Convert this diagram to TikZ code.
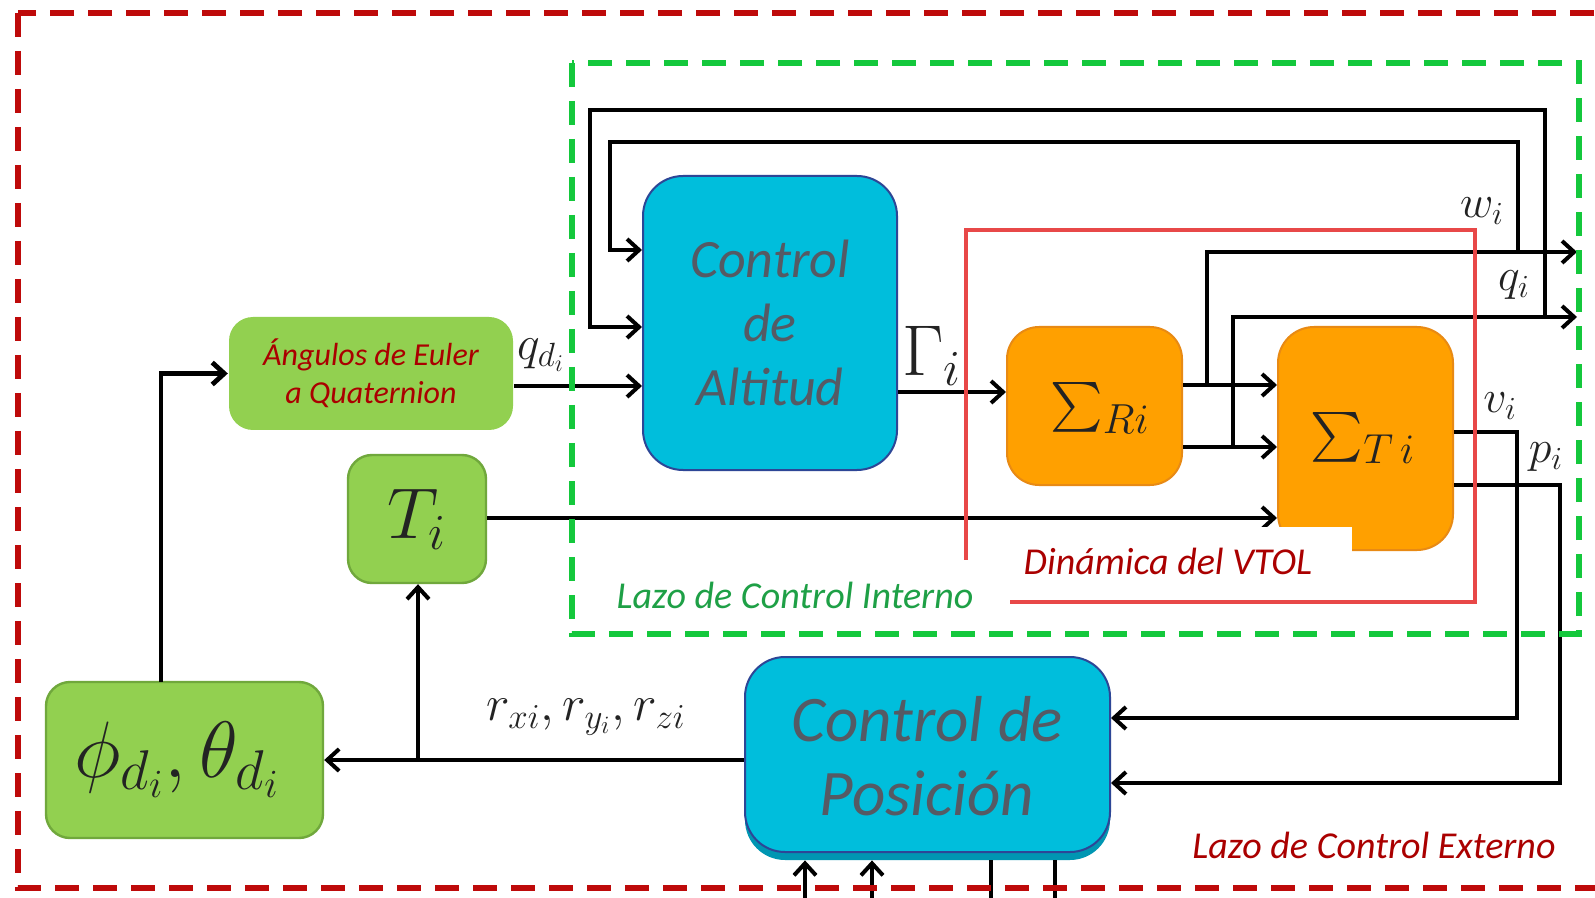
\RequirePackage{fix-cm}
\documentclass[tikz,border=0pt]{standalone}
\usepackage{exscale}
\usepackage{fontspec}
\setmainfont{Carlito}
\usepackage{graphicx}
\usetikzlibrary{arrows.meta,fit,calc}

\definecolor{cyanfill}{RGB}{0,190,220}
\definecolor{cyanedge}{RGB}{45,70,150}
\definecolor{cyanshadow}{RGB}{0,150,178}
\definecolor{orangefill}{RGB}{255,160,0}
\definecolor{orangeedge}{RGB}{232,138,20}
\definecolor{greenfill}{RGB}{146,208,80}
\definecolor{greenedge}{RGB}{112,168,60}
\definecolor{graytext}{RGB}{85,90,100}
\definecolor{darkred}{RGB}{170,0,0}
\definecolor{labelgreen}{RGB}{30,160,70}
\definecolor{outerred}{RGB}{190,10,10}
\definecolor{innergreen}{RGB}{20,200,60}
\definecolor{vtolred}{RGB}{232,72,72}
\definecolor{mathink}{RGB}{35,35,35}

\tikzset{
  wire/.style={line width=2pt, black},
  conn/.style={wire, -{Straight Barb[length=6pt,width=11pt]}},
  cyanbox/.style={draw=cyanedge, line width=1pt, fill=cyanfill, rounded corners=20pt, inner sep=0pt},
  orangebox/.style={draw=orangeedge, line width=1pt, fill=orangefill, rounded corners=16pt, inner sep=0pt},
  greenbox/.style={draw=greenedge, line width=1.2pt, fill=greenfill, rounded corners=12pt, inner sep=0pt},
  bigtext/.style={align=center, text=graytext, font=\itshape},
  mlabel/.style={text=mathink, inner sep=0pt},
  looplabel/.style={font=\fontsize{19}{22}\selectfont\itshape, inner sep=0pt},
  whitepatch/.style={fill=white, draw=none, inner sep=0pt},
  outerdash/.style={outerred, line width=3pt, dash pattern=on 12pt off 7pt},
  innerdash/.style={innergreen, line width=2.6pt, dash pattern=on 12pt off 7pt},
  vtolframe/.style={vtolred, line width=2pt}
}

\begin{document}
\begin{tikzpicture}[x=0.5pt,y=-0.5pt]
\useasboundingbox (0,0) rectangle (1595,898);
\clip (0,0) rectangle (1595,898);
\fill[white] (0,0) rectangle (1595,898);

% blocks
\node[cyanbox, fit={(643,176) (897,470)}] (alt) {};
\node[orangebox, fit={(1007,327) (1182,485)}] (sr) {};
\node[orangebox, rounded corners=18pt, fit={(1278,327) (1453,550)}] (st) {};
\node[greenbox, draw=none, fit={(229,317) (513,430)}] (ang) {};
\node[greenbox, fit={(348,455) (486,583)}] (ti) {};
\node[greenbox, fit={(46,682) (323,838)}] (phi) {};
\node[fill=cyanshadow, rounded corners=20pt, inner sep=0pt, fit={(745,665) (1110,860)}] (posshadow) {};
\node[cyanbox, fit={(745,657) (1110,852)}] (pos) {};

% block texts
\node[bigtext, font=\fontsize{27}{32}\selectfont\itshape] (alttxt) at (alt.center) {Control\\de\\Altitud};
\node[bigtext, font=\fontsize{32.5}{37}\selectfont\itshape] (postxt) at (927,756) {Control de\\Posición};
\node[align=center, text=darkred, font=\fontsize{16}{19}\selectfont\itshape] (angtxt) at (ang.center) {Ángulos de Euler\\a Quaternion};
\node[mlabel, font=\fontsize{30}{30}\selectfont] (srtxt) at (1100,408) {$\sum_{Ri}$};
\node[mlabel, font=\fontsize{30}{30}\selectfont] (sttxt) at (1363,438) {$\sum_{T\,i}$};
\node[mlabel, font=\fontsize{36}{36}\selectfont] (titxt) at (ti.center) {$T_i$};
\node[mlabel, font=\fontsize{40}{40}\selectfont] (phitxt) at (177,760) {$\phi_{d_i},\theta_{d_i}$};

% signal labels
\node[mlabel, font=\fontsize{24}{24}\selectfont] (qdlab) at (541,355) {$q_{d_i}$};
\node[mlabel, font=\fontsize{36}{36}\selectfont] (gamlab) at (932,356) {$\Gamma_i$};
\node[mlabel, font=\fontsize{23}{23}\selectfont] (wlab) at (1482,211) {$w_i$};
\node[mlabel, font=\fontsize{23}{23}\selectfont] (qlab) at (1514,285) {$q_i$};
\node[mlabel, font=\fontsize{23}{23}\selectfont] (vlab) at (1500,406) {$v_i$};
\node[mlabel, font=\fontsize{23}{23}\selectfont] (plab) at (1546,457) {$p_i$};
\node[mlabel, font=\fontsize{25}{25}\selectfont] (rlab) at (586,717) {$r_{xi},r_{y_i},r_{zi}$};

% junction points and free ends
\coordinate (wsplit) at (1207,385);
\coordinate (qsplit) at (1233,447);
\coordinate (wend) at (1577,252);
\coordinate (qend) at (1577,317);
\coordinate (wtap) at (1518,252);
\coordinate (qtap) at (1545,317);
\coordinate (wtop) at (610,142);
\coordinate (qtop) at (590,110);
\coordinate (vturn) at (1517,718);
\coordinate (pturn) at (1560,783);
\coordinate (rsplit) at (418,760);
\coordinate (phiup) at (161,682);
\coordinate (in1) at (805,905);
\coordinate (in2) at (872,905);
\coordinate (out1) at (991,905);
\coordinate (out2) at (1055,905);

% connectors
\draw[conn] (ang.east |- 0,386) -- (alt.west |- 0,386);
\draw[conn] (alt.east |- 0,392) -- (sr.west |- 0,392);
\draw[conn] (sr.east |- 0,385) -- (st.west |- 0,385);
\draw[conn] (sr.east |- 0,447) -- (st.west |- 0,447);
\draw[conn] (wsplit) |- (wend);
\draw[conn] (qsplit) |- (qend);
\draw[conn] (wtap) |- (wtop) |- (alt.west |- 0,250);
\draw[conn] (qtap) |- (qtop) |- (alt.west |- 0,327);
\draw[conn] (ti.east |- 0,518) -- (st.west |- 0,518);
\draw[conn] (st.east |- 0,432) -| (vturn) -- (pos.east |- vturn);
\draw[conn] (st.east |- 0,485) -| (pturn) -- (pos.east |- pturn);
\draw[conn] (pos.west |- 0,760) -- (phi.east |- 0,760);
\draw[conn] (rsplit) -- (rsplit |- ti.south);
\draw[conn, line width=2.4pt] (phiup) |- (ang.west);
\draw[conn] (in1) -- (in1 |- posshadow.south);
\draw[conn] (in2) -- (in2 |- posshadow.south);
\draw[wire] (out1 |- posshadow.south) -- (out1);
\draw[wire] (out2 |- posshadow.south) -- (out2);

% loop frames
\draw[vtolframe] (966,230) rectangle (1475,602);
\draw[innerdash] (572,63) rectangle (1579,634);
\draw[outerdash] (18,13) rectangle (1660,888);

% loop captions
\node[whitepatch, fit={(985,527) (1352,600)}] (vtolpatch) {};
\node[whitepatch, fit={(578,560) (1010,626)}] (innerpatch) {};
\node[looplabel, text=darkred] (vtollab) at (1168,561) {Dinámica del VTOL};
\node[looplabel, text=labelgreen] (innerlab) at (795,595) {Lazo de Control Interno};
\node[looplabel, text=darkred] (outerlab) at (1374,845) {Lazo de Control Externo};
\end{tikzpicture}
\end{document}
